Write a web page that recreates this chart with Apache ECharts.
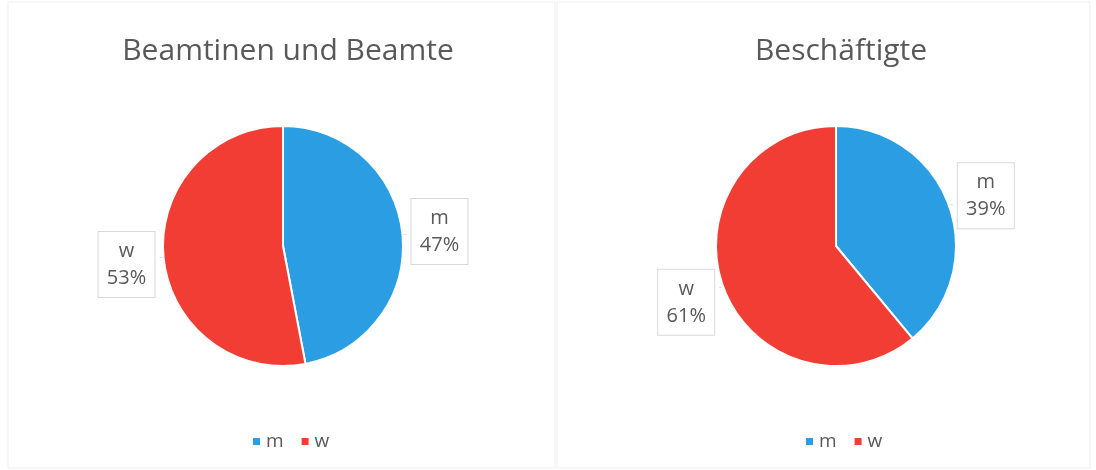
<!DOCTYPE html>
<html><head><meta charset="utf-8">
<script src="https://cdn.jsdelivr.net/npm/echarts@6/dist/echarts.min.js"></script>
<style>html,body{margin:0;padding:0;background:#fff}#c{width:1096px;height:470px}</style>
</head><body><div id="c"></div>
<script>
const categories = ['m', 'w'];
const titles = ['Beamtinen und Beamte', 'Beschäftigte'];
const beamteValues = [47, 53];
const beschaeftigteValues = [39, 61];
const colors = ['#2b9de2', '#f23d35'];

const chart = echarts.init(document.getElementById('c'));
const font = '"Open Sans", "Noto Sans", sans-serif';
const centersX = [283, 836];
const panels = [[8, 2, 547, 466], [557, 2, 533, 466]];
const labelShiftY = [[-3, 7], [-9, 15]];

function pieSeries(name, values, idx) {
  return {
    type: 'pie',
    name: name,
    center: [centersX[idx], 246],
    radius: 120,
    startAngle: 90,
    clockwise: true,
    percentPrecision: 0,
    itemStyle: { borderColor: '#fff', borderWidth: 2 },
    label: {
      show: true,
      position: 'outside',
      formatter: '{t|{b}}\n{t|{d}%}',
      backgroundColor: '#fff',
      borderColor: '#d9d9d9',
      borderWidth: 1,
      padding: [6, 7, 5, 7],
      rich: {
        t: { color: '#595959', fontFamily: font, fontSize: 20, lineHeight: 27, width: 42, align: 'center' }
      }
    },
    labelLine: { show: true, length: 2, length2: 2, lineStyle: { color: '#d9d9d9', width: 1 } },
    labelLayout: function (p) { return { dy: labelShiftY[idx][p.dataIndex] }; },
    emphasis: { disabled: true },
    data: categories.map((c, i) => ({ name: c, value: values[i], itemStyle: { color: colors[i] } }))
  };
}

chart.setOption({
  animation: false,
  backgroundColor: '#fff',
  graphic: panels.map(p => ({
    type: 'rect', shape: { x: p[0], y: p[1], width: p[2], height: p[3] },
    style: { fill: 'none', stroke: '#eeeeee', lineWidth: 1 }, silent: true
  })),
  title: titles.map((t, i) => ({
    text: t, left: centersX[i], top: 31, textAlign: 'center',
    textStyle: { color: '#595959', fontFamily: font, fontWeight: 'normal', fontSize: 30 }
  })),
  legend: [0, 1].map(i => ({
    data: categories, left: centersX[i] - 37, top: 427,
    icon: 'rect', itemWidth: 9, itemHeight: 9, itemGap: 16,
    textStyle: { color: '#595959', fontFamily: font, fontSize: 19 },
    seriesIndex: i
  })),
  series: [pieSeries(titles[0], beamteValues, 0), pieSeries(titles[1], beschaeftigteValues, 1)]
});
</script></body></html>
